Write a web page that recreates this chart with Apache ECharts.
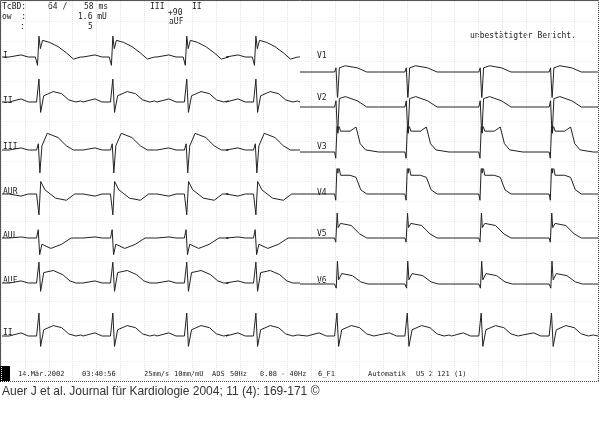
<!DOCTYPE html>
<html>
<head>
<meta charset="utf-8">
<script src="https://cdn.jsdelivr.net/npm/echarts@6/dist/echarts.min.js"></script>
<style>
  html, body { margin: 0; padding: 0; background: #fff; }
  #chart { width: 600px; height: 443px; }
</style>
</head>
<body>
<div id="chart"></div>
<script>
// R-Zacken (s): linke Hälfte, rechte Hälfte
var beatsLeft = [0.31, 0.93, 1.55, 2.13];
var beatsRight = [2.81, 3.40, 4.02, 4.61];

// Schlagformen: [ms relativ zur R-Zacke, mV]
var tplI   = [[-250,0],[-150,0.1],[-90,0],[-30,0],[-12,-0.4],[0,1.0],[12,0.4],[30,0.8],[90,0.7],[160,0.5],[230,0.2],[290,-0.1],[350,0]];
var tplII  = [[-250,0],[-150,0.15],[-90,0],[-20,0],[0,1.1],[14,-0.5],[40,0.3],[120,0.5],[190,0.4],[250,0.1],[310,0],[350,0.05]];
var tplIII = [[-250,0],[-150,0.1],[-90,0],[-20,0],[-5,0.3],[8,-1.1],[25,0.2],[70,0.8],[160,0.6],[230,0.2],[290,0],[350,0]];
var tplAVR = [[-250,0],[-150,-0.1],[-90,0],[-20,0],[0,-1.0],[15,0.6],[50,0.2],[140,-0.2],[230,-0.3],[300,0],[350,0]];
var tplAVL = [[-250,0],[-150,0.05],[-90,0],[-20,0],[-6,0.4],[6,-0.8],[25,-0.3],[100,-0.5],[190,-0.3],[270,0],[350,0]];
var tplAVF = [[-250,0],[-150,0.1],[-90,0],[-20,0],[0,1.0],[14,-0.4],[40,0.5],[120,0.6],[200,0.4],[260,0.1],[310,0],[350,0]];
var tplV1  = [[-250,0],[-20,0],[-8,0.2],[5,-1.3],[20,0.2],[70,0.3],[170,0.2],[250,0],[350,0]];
var tplV2  = [[-250,0],[-20,0],[-8,0.3],[5,-1.4],[20,0.4],[70,0.5],[170,0.3],[250,0],[350,0]];
var tplV3  = [[-250,0],[-20,0],[-10,-0.3],[2,1.4],[8,0.9],[14,1.3],[30,1.0],[110,1.0],[160,1.2],[195,0.4],[240,0.1],[350,0]];
var tplV4  = [[-250,0],[-20,0],[-10,-0.3],[2,1.6],[8,1.0],[14,1.4],[30,0.9],[110,0.9],[160,0.8],[200,0.2],[250,0],[350,0]];
var tplV5  = [[-250,0],[-20,0],[-10,-0.2],[2,1.2],[10,0.5],[30,0.7],[120,0.6],[190,0.2],[250,0],[350,0]];
var tplV6  = [[-250,0],[-20,0],[-6,-0.2],[4,1.1],[14,0.2],[40,0.5],[130,0.4],[200,0.1],[260,0],[350,0]];

// Ableitungen: Name, Schlagform, Seite, Grundlinie (px)
var leadNames = ['I', 'II', 'III', 'AUR', 'AUL', 'AUF', 'V1', 'V2', 'V3', 'V4', 'V5', 'V6', 'II'];
var leadTpls = [tplI, tplII, tplIII, tplAVR, tplAVL, tplAVF, tplV1, tplV2, tplV3, tplV4, tplV5, tplV6, tplII];
var leadSide = ['L', 'L', 'L', 'L', 'L', 'L', 'R', 'R', 'R', 'R', 'R', 'R', 'F'];
var leadBase = [57, 102, 150, 194, 238, 283, 72, 107, 152, 194, 238, 284, 336];
var leadLabelY = [52, 97, 143, 188, 232, 277, 52, 94, 143, 189, 230, 277, 329];

function buildTrace(tpl, beats, t0, t1) {
  var out = [[t0, 0]];
  beats.forEach(function (b) {
    tpl.forEach(function (p) {
      var t = b + p[0] / 1000;
      if (t > t0 && t < t1) out.push([t, p[1]]);
    });
  });
  out.push([t1, 0]);
  return out;
}

var grids = [], xAxes = [], yAxes = [], series = [];
// Hintergrundraster
grids.push({left: 1, top: 1, width: 597, height: 380});
xAxes.push({gridIndex: 0, type: 'value', min: 0, max: 5, interval: 0.2, show: true,
  axisLine: {show: false}, axisTick: {show: false}, axisLabel: {show: false},
  splitLine: {lineStyle: {color: '#e2e2e2', type: 'dotted', width: 1}}});
yAxes.push({gridIndex: 0, type: 'value', min: 0, max: 380, interval: 20, show: true,
  axisLine: {show: false}, axisTick: {show: false}, axisLabel: {show: false},
  splitLine: {lineStyle: {color: '#eeeeee', type: 'dotted', width: 1}}});

var H = 50;
leadNames.forEach(function (name, i) {
  var side = leadSide[i];
  var left = side === 'R' ? 300 : 2;
  var width = side === 'F' ? 596 : 298;
  var t0 = side === 'R' ? 2.5 : 0;
  var t1 = side === 'L' ? 2.5 : 5;
  var beats = side === 'L' ? beatsLeft : side === 'R' ? beatsRight : beatsLeft.concat(beatsRight);
  var gi = grids.length;
  grids.push({left: left, top: leadBase[i] - H / 2, width: width, height: H});
  xAxes.push({gridIndex: gi, type: 'value', min: t0, max: t1, show: false});
  yAxes.push({gridIndex: gi, type: 'value', min: -1.2, max: 1.2, show: false});
  series.push({type: 'line', xAxisIndex: gi, yAxisIndex: gi, showSymbol: false, silent: true,
    lineStyle: {color: '#222', width: 1}, data: buildTrace(leadTpls[i], beats, t0, t1)});
});

var mono = {fontFamily: 'DejaVu Sans Mono', fontSize: 8, fill: '#222'};
var monoSmall = {fontFamily: 'DejaVu Sans Mono', fontSize: 7, fill: '#222'};
function txt(x, y, s, style) {
  return {type: 'text', left: x, top: y, style: Object.assign({text: s}, style || mono)};
}

var headerItems = [
  [2, 3, 'TcBD:'], [48, 3, '64 /'], [84, 3, '58 ms'], [150, 3, 'III'], [192, 3, 'II'],
  [168, 9, '+90'], [169, 18, 'aUF'],
  [2, 13, 'ow  :'], [78, 13, '1.6 mU'], [20, 23, ':'], [88, 23, '5'],
  [470, 32, 'unbestätigter Bericht.']
];
var footerItems = [
  [18, 371, '14.Mär.2002'], [82, 371, '03:40:56'], [144, 371, '25mm/s'], [174, 371, '10mm/mU'],
  [212, 371, 'ADS'], [230, 371, '50Hz'], [260, 371, '0.08 - 40Hz'], [318, 371, '6_F1'],
  [368, 371, 'Automatik'], [416, 371, 'U5 2 121 (1)']
];

var graphics = [
  {type: 'rect', shape: {x: 0.5, y: 0.5, width: 598, height: 381}, style: {fill: 'none', stroke: '#555', lineWidth: 1}},
  {type: 'rect', shape: {x: 0, y: 366, width: 10, height: 16}, style: {fill: '#000'}},
  txt(2, 386, 'Auer J et al. Journal für Kardiologie 2004; 11 (4): 169-171 ©',
    {fontFamily: 'Liberation Sans', fontSize: 12, fill: '#333'})
];
headerItems.forEach(function (h) { graphics.push(txt(h[0], h[1], h[2])); });
footerItems.forEach(function (h) { graphics.push(txt(h[0], h[1], h[2], monoSmall)); });
leadNames.forEach(function (n, i) {
  graphics.push(txt(leadSide[i] === 'R' ? 317 : 3, leadLabelY[i], n));
});

var chart = echarts.init(document.getElementById('chart'));
chart.setOption({
  animation: false,
  backgroundColor: '#fff',
  grid: grids,
  xAxis: xAxes,
  yAxis: yAxes,
  series: series,
  graphic: graphics
});
</script>
</body>
</html>
